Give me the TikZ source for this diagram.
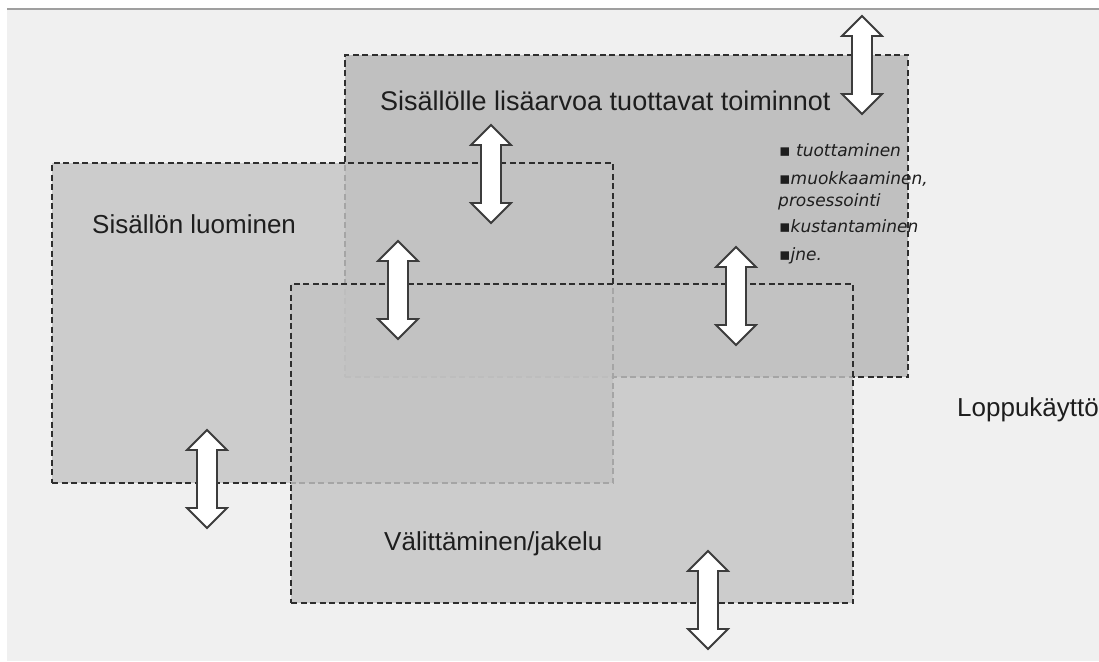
\documentclass[tikz,border=0pt]{standalone}
\usepackage{fontspec}
\setmainfont{Liberation Sans}
\newfontfamily\listfont{DejaVu Sans}
\definecolor{bg}{HTML}{F0F0F0}
\definecolor{topfill}{HTML}{C0C0C0}
\definecolor{boxfill}{HTML}{C3C3C3}
\definecolor{edge}{HTML}{2E2E2E}
\definecolor{arrowedge}{HTML}{3C3C3C}
\definecolor{txt}{HTML}{1E1E1E}
\begin{document}
\begin{tikzpicture}[x=1pt,y=-1pt,
  box/.style={draw=edge, line width=1.3pt, dash pattern=on 6pt off 3.5pt,
    anchor=north west, inner sep=0pt, outer sep=0pt},
  arr/.style={draw=arrowedge, line width=1.8pt, fill=white, line join=miter},
  lbl/.style={anchor=base west, inner sep=0pt, text=txt,
    font=\fontsize{26}{30}\selectfont},
  itm/.style={anchor=base west, inner sep=0pt, text=txt,
    font=\listfont\itshape\fontsize{17}{20}\selectfont},
  dblarrow/.pic={\draw[arr] (0,-49) -- (20,-29) -- (10,-29) -- (10,29) -- (20,29)
      -- (0,49) -- (-20,29) -- (-10,29) -- (-10,-29) -- (-20,-29) -- cycle;}]
\useasboundingbox (0,0) rectangle (1099,661);
\fill[white] (0,0) rectangle (1099,661);
\fill[bg] (7,9) rectangle (1099,661);
\draw[gray!75, line width=1.2pt] (7,9) -- (1099,9);
% boxes
\node[box, fill=topfill, minimum width=563pt, minimum height=322pt] (topbox) at (345,55) {};
\node[box, fill=boxfill, fill opacity=0.8, minimum width=561pt, minimum height=320pt] (leftbox) at (52,163) {};
\node[box, fill=boxfill, fill opacity=0.8, minimum width=562pt, minimum height=319pt] (botbox) at (291,284) {};
% labels
\node[lbl, font=\fontsize{27}{31}\selectfont] (t1) at (380,110) {Sisällölle lisäarvoa tuottavat toiminnot};
\node[lbl] (t2) at (92,233) {Sisällön luominen};
\node[lbl] (t3) at (384,550) {Välittäminen/jakelu};
\node[lbl] (t4) at (957,416) {Loppukäyttö};
% list
\node[itm] (l1) at (779,156) {▪ tuottaminen};
\node[itm] (l2) at (779,184) {▪muokkaaminen,};
\node[itm] (l3) at (778,206) {prosessointi};
\node[itm] (l4) at (779,232) {▪kustantaminen};
\node[itm] (l5) at (779,260) {▪jne.};
% arrows
\pic (a1) at (862,65) {dblarrow};
\pic (a2) at (491,174) {dblarrow};
\pic (a3) at (398,290) {dblarrow};
\pic (a4) at (736,296) {dblarrow};
\pic (a5) at (207,479) {dblarrow};
\pic (a6) at (708,600) {dblarrow};
\end{tikzpicture}
\end{document}
